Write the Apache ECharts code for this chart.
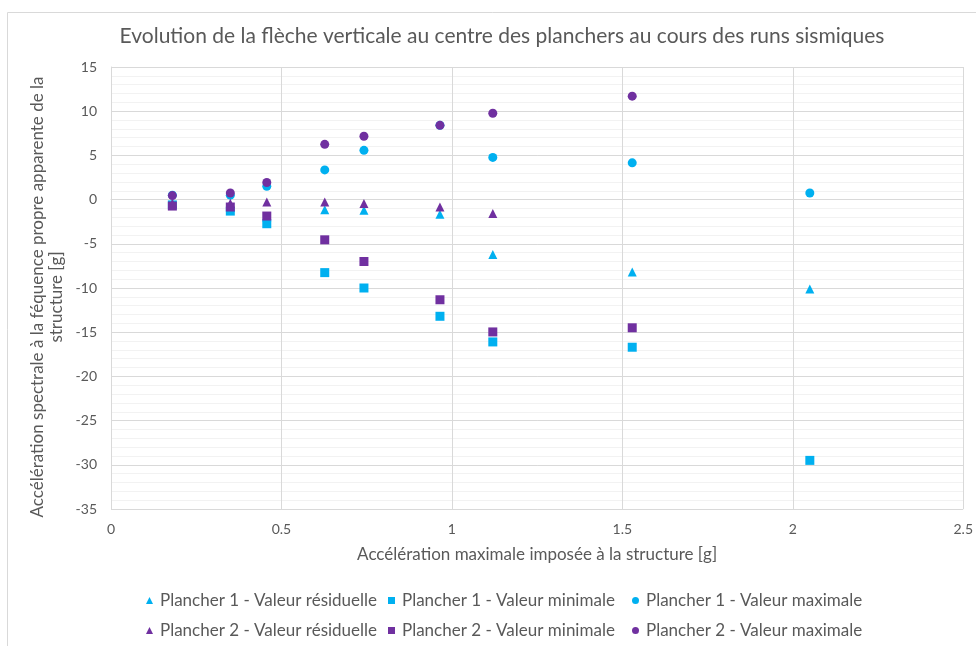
<!DOCTYPE html>
<html>
<head>
<meta charset="utf-8">
<script src="https://cdn.jsdelivr.net/npm/echarts@6/dist/echarts.min.js"></script>
<style>
  html, body { margin: 0; padding: 0; background: #fff; }
  #chart { width: 976px; height: 646px; }
</style>
</head>
<body>
<div id="chart"></div>
<script>
// Peak ground acceleration of each seismic run [g]
const runsX = [0.18, 0.35, 0.457, 0.627, 0.742, 0.965, 1.12, 1.529, 2.05];

// Floor 1 (Plancher 1)
const p1Residual = [-0.4, -0.9, -2.0, -1.14, -1.2, -1.67, -6.2, -8.2, -10.1];
const p1Minimum  = [-0.6, -1.3, -2.73, -8.26, -10.0, -13.2, -16.1, -16.7, -29.5];
const p1Maximum  = [0.5, 0.5, 1.5, 3.36, 5.57, 8.4, 4.77, 4.16, 0.75];

// Floor 2 (Plancher 2) — no measurement at the last run
const p2Residual = [-0.4, -0.42, -0.27, -0.27, -0.45, -0.84, -1.56, null, null];
const p2Minimum  = [-0.73, -0.84, -1.86, -4.55, -7.0, -11.33, -14.97, -14.5, null];
const p2Maximum  = [0.45, 0.75, 1.93, 6.25, 7.16, 8.4, 9.77, 11.7, null];

const seriesNames = [
  'Plancher 1 - Valeur résiduelle', 'Plancher 1 - Valeur minimale', 'Plancher 1 - Valeur maximale',
  'Plancher 2 - Valeur résiduelle', 'Plancher 2 - Valeur minimale', 'Plancher 2 - Valeur maximale'
];

const CYAN = '#00b0f0';
const PURPLE = '#7030a0';
const TEXT = '#595959';
const FONT = 'Lato';

function pairs(values) {
  const out = [];
  values.forEach((v, i) => { if (v !== null) out.push([runsX[i], v]); });
  return out;
}

function scatter(name, values, symbol, color, size) {
  return {
    name, type: 'scatter', symbol, symbolSize: size,
    itemStyle: { color, opacity: 1 },
    data: pairs(values)
  };
}

// Legend laid out as a 3-column table, one entry per cell
const legendCols = [141, 383, 627];
const legendRows = [587, 617];
const legends = seriesNames.map((name, i) => ({
  data: [name],
  left: legendCols[i % 3], top: legendRows[Math.floor(i / 3)],
  itemWidth: 7, itemHeight: 7,
  textStyle: { fontFamily: FONT, fontSize: 17, color: TEXT, padding: [0, 0, 0, 2] }
}));

const chart = echarts.init(document.getElementById('chart'));
chart.setOption({
  animation: false,
  textStyle: { fontFamily: FONT },
  graphic: [
    {
      type: 'rect', left: 5, top: 10,
      shape: { width: 980, height: 650 },
      style: { fill: 'none', stroke: '#d9d9d9', lineWidth: 1 },
      silent: true
    },
    {
      type: 'text', x: 47, y: 297, rotation: Math.PI / 2,
      style: {
        text: 'Accélération spectrale à la féquence propre apparente de la\nstructure [g]',
        fontFamily: FONT, fontSize: 17, lineHeight: 19, fill: TEXT,
        align: 'center', verticalAlign: 'middle'
      },
      silent: true
    }
  ],
  title: {
    text: 'Evolution de la flèche verticale au centre des planchers au cours des runs sismiques',
    left: 497, top: 21, textAlign: 'center',
    textStyle: { fontFamily: FONT, fontSize: 21, fontWeight: 'normal', color: TEXT }
  },
  legend: legends,
  grid: { left: 111, right: 11, top: 67, bottom: 137, containLabel: false },
  xAxis: {
    type: 'value', min: 0, max: 2.5, interval: 0.5,
    name: 'Accélération maximale imposée à la structure [g]',
    nameLocation: 'middle', nameGap: 37,
    nameTextStyle: { fontFamily: FONT, fontSize: 17, color: TEXT },
    axisLine: { show: true, lineStyle: { color: '#d9d9d9' } },
    axisTick: { show: false },
    axisLabel: { color: TEXT, fontSize: 14, margin: 13 },
    splitLine: { show: true, lineStyle: { color: '#d9d9d9' } }
  },
  yAxis: {
    type: 'value', min: -35, max: 15, interval: 5,
    axisLine: { show: true, lineStyle: { color: '#d9d9d9' } },
    axisTick: { show: false },
    axisLabel: { color: TEXT, fontSize: 14, margin: 14 },
    splitLine: { show: true, lineStyle: { color: '#d9d9d9' } },
    minorTick: { show: false, splitNumber: 5 },
    minorSplitLine: { show: true, lineStyle: { color: '#f2f2f2' } }
  },
  series: [
    scatter(seriesNames[0], p1Residual, 'triangle', CYAN, 9),
    scatter(seriesNames[1], p1Minimum, 'rect', CYAN, 9),
    scatter(seriesNames[2], p1Maximum, 'circle', CYAN, 9),
    scatter(seriesNames[3], p2Residual, 'triangle', PURPLE, 9),
    scatter(seriesNames[4], p2Minimum, 'rect', PURPLE, 9),
    scatter(seriesNames[5], p2Maximum, 'circle', PURPLE, 9)
  ]
});
</script>
</body>
</html>
